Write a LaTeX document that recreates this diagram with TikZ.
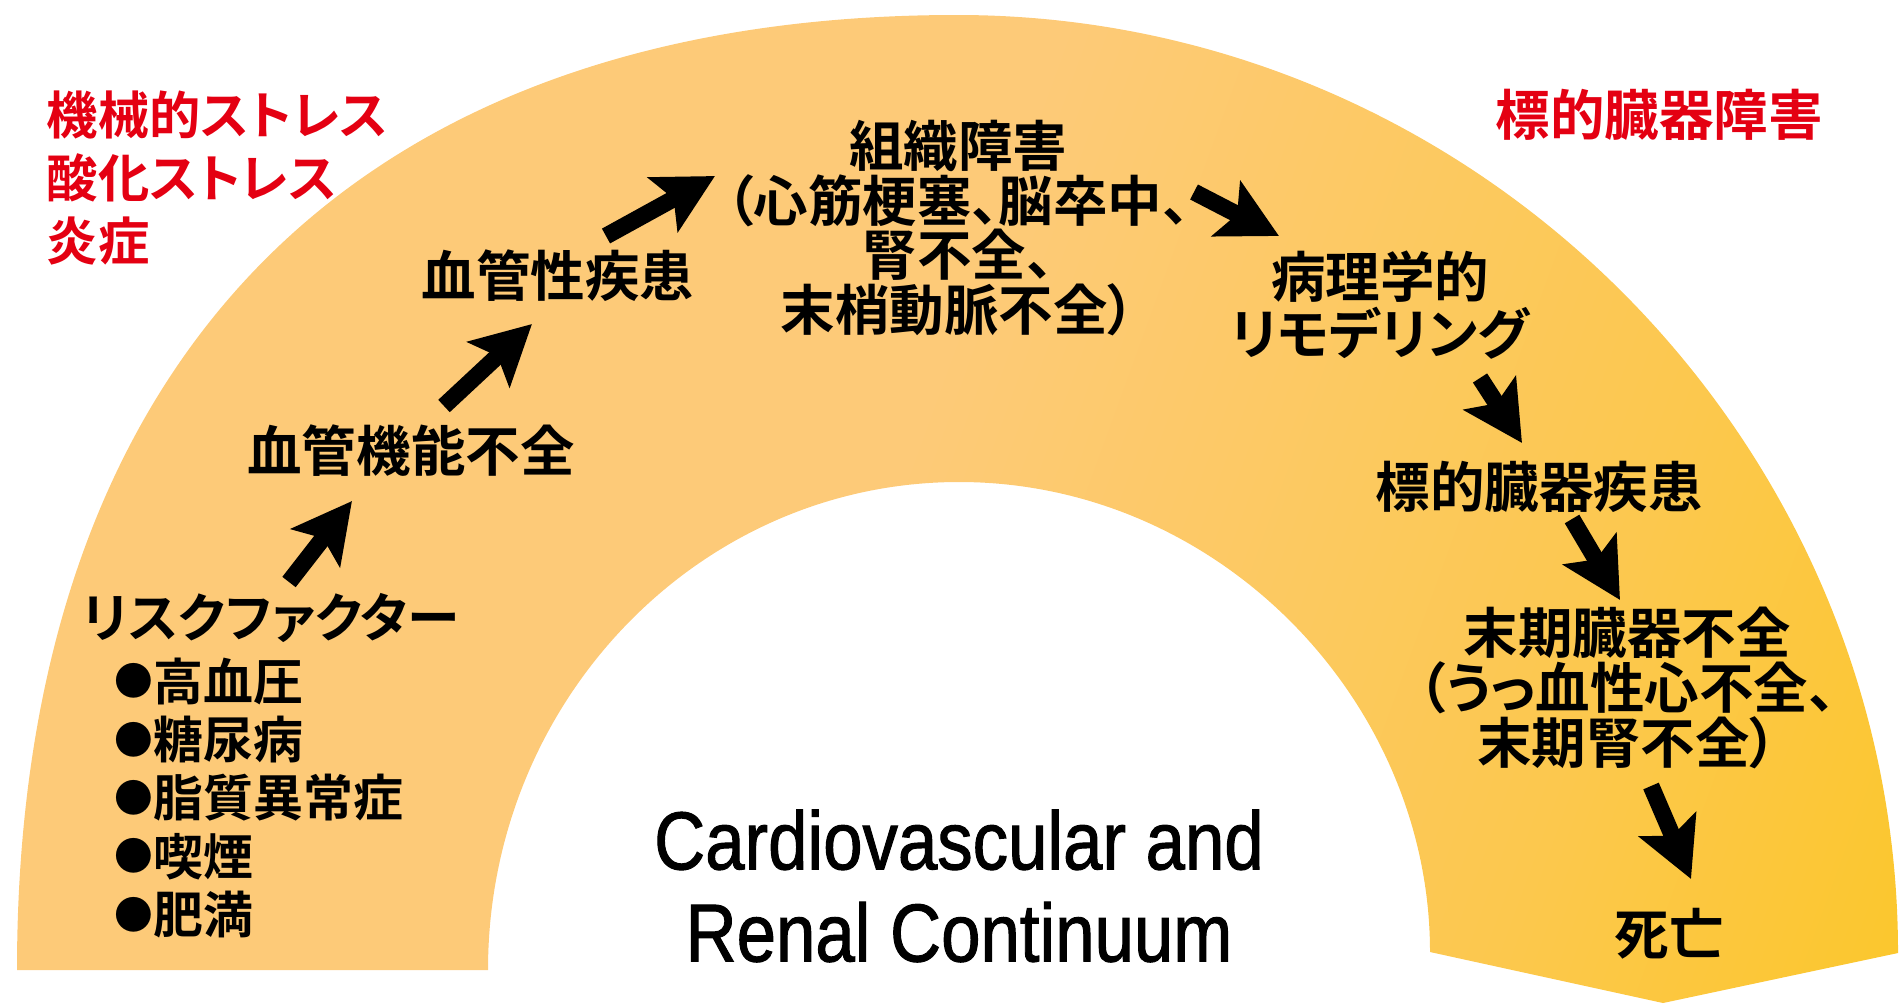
\documentclass[tikz,border=0pt]{standalone}
\usepackage{fontspec}
\usetikzlibrary{arrows.meta,calc}
\newfontfamily\jpfont{Noto Sans CJK JP Bold}[RawFeature=+palt]
\newfontfamily\titlefont{Liberation Sans}[FakeStretch=0.86, FakeBold=1.2]
\newcommand{\crcDot}{\raisebox{1.3pt}{\fontsize{11}{11}\selectfont ●}}
\definecolor{crcPeach}{RGB}{253,202,120}
\definecolor{crcMid}{RGB}{252,200,78}
\definecolor{crcGold}{RGB}{251,198,28}
\definecolor{crcRed}{RGB}{228,0,18}
\pgfdeclarehorizontalshading{crcArcShade}{100bp}{color(0bp)=(crcPeach); color(48bp)=(crcPeach); color(70bp)=(crcMid); color(88bp)=(crcGold); color(100bp)=(crcGold)}

\begin{document}
\begin{tikzpicture}[
    x=0.01cm, y=-0.01cm,
    crcStageStyle/.style={font=\jpfont\fontsize{15.5}{16.2}\selectfont, inner sep=0pt, align=center},
    crcStressStyle/.style={font=\jpfont\fontsize{15.5}{17.9}\selectfont, text=crcRed, inner sep=0pt, align=left},
    crcTitleStyle/.style={font=\titlefont\fontsize{23.4}{26.2}\selectfont, inner sep=0pt, align=center},
    crcArrowStyle/.style={line width=4.8pt, -{Stealth[length=16.8pt, width=17.4pt, inset=3.4pt]}}
]
    \useasboundingbox (0,0) rectangle (1901,1006);

    % --- アーチ ---
    \shade[shading=crcArcShade, shading angle=-20]
        (17,970) .. controls (17,359) and (355,15) .. (957,15)
        .. controls (1476,15) and (1898,441) .. (1898,953)
        -- (1663,1003) -- (1430,952)
        .. controls (1430,701) and (1219,482) .. (959,482)
        .. controls (699,482) and (488,701) .. (488,970)
        -- cycle;

    % --- 赤字 ---
    \node[crcStressStyle, font=\jpfont\fontsize{14.6}{17.9}\selectfont, anchor=west]
        (stressLeft) at (46,178) {機械的ストレス\\酸化ストレス\\炎症};
    \node[crcStressStyle] (stressRight) at (1659,115) {標的臓器障害};

    % --- 各段階 ---
    \node[crcStageStyle, font=\jpfont\fontsize{15}{16.2}\selectfont] (risk) at (271,618) {リスクファクター};
    \node[crcStageStyle, font=\jpfont\fontsize{14.2}{16.6}\selectfont, align=left, anchor=west]
        (riskList) at (114,798) {\crcDot 高血圧\\\crcDot 糖尿病\\\crcDot 脂質異常症\\\crcDot 喫煙\\\crcDot 肥満};
    \node[crcStageStyle] (vfunc) at (411,451) {血管機能不全};
    \node[crcStageStyle] (vdis) at (558,276) {血管性疾患};
    \node[crcStageStyle, font=\jpfont\fontsize{15.5}{15.6}\selectfont]
        (tissue) at (958,228) {組織障害\\（心筋梗塞、脳卒中、\\腎不全、\\末梢動脈不全）};
    \node[crcStageStyle] (patho) at (1380,305) {病理学的\\リモデリング};
    \node[crcStageStyle] (tdis) at (1539,487) {標的臓器疾患};
    \node[crcStageStyle, font=\jpfont\fontsize{15.5}{15.6}\selectfont]
        (esrd) at (1627,688) {末期臓器不全\\（うっ血性心不全、\\末期腎不全）};
    \node[crcStageStyle] (death) at (1669,934) {死亡};

    % --- タイトル ---
    \node[crcTitleStyle] (title) at (959,886) {Cardiovascular and\\Renal Continuum};

    % --- 矢印 ---
    \draw[crcArrowStyle] ($(risk)+(18,-36)$) -- ($(vfunc)+(-59,50)$);
    \draw[crcArrowStyle] ($(vfunc)+(33,-45)$) -- ($(vdis)+(-26,48)$);
    \draw[crcArrowStyle] ($(vdis)+(48,-40)$) -- ($(tissue)+(-243,-52)$);
    \draw[crcArrowStyle] ($(tissue)+(236,-36)$) -- ($(patho)+(-101,-69)$);
    \draw[crcArrowStyle] ($(patho)+(100,73)$) -- ($(tdis)+(-17,-44)$);
    \draw[crcArrowStyle] ($(tdis)+(33,32)$) -- ($(esrd)+(-7,-88)$);
    \draw[crcArrowStyle] ($(esrd)+(24,98)$) -- ($(death)+(22,-55)$);
\end{tikzpicture}
\end{document}
